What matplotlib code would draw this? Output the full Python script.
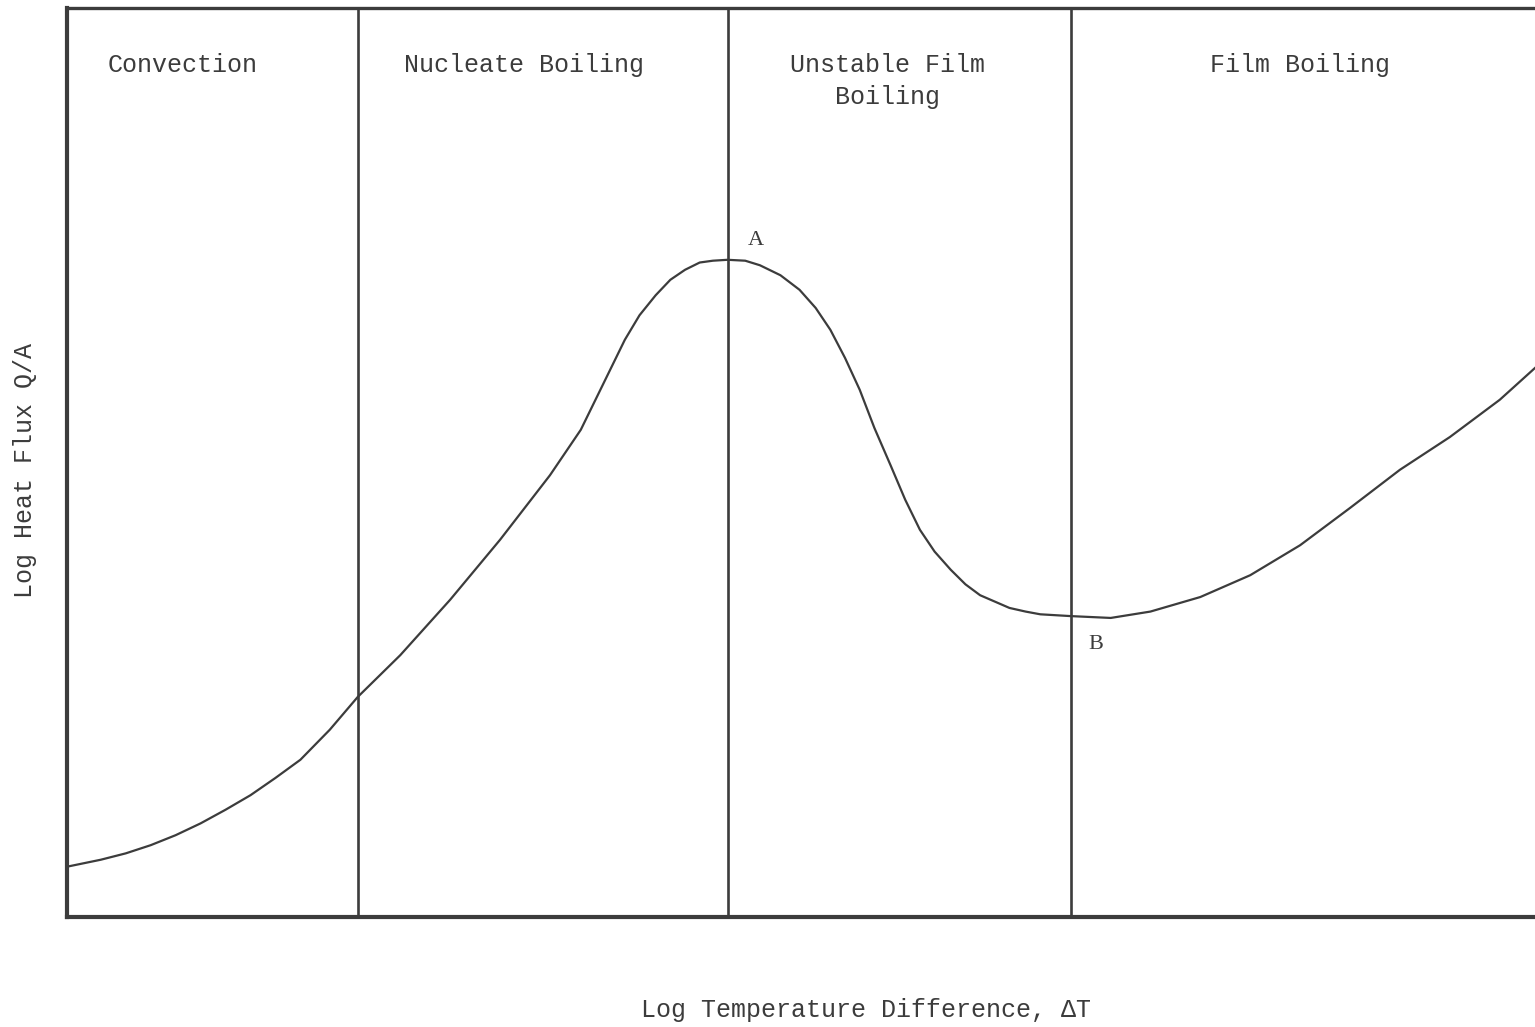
import matplotlib
matplotlib.use("Agg")
import matplotlib.pyplot as plt

# boiling curve (arbitrary log units, 0-100)
log_dT = [0.2, 2.3, 4.0, 5.7, 7.4, 9.1, 10.8, 12.5, 14.2, 15.9, 17.9, 19.8,
          22.7, 26.1, 29.5, 32.9, 35.0, 36.0, 37.0, 38.0, 39.0, 40.1, 41.1,
          42.1, 43.1, 44.0, 45.0, 46.2, 47.2, 48.6, 49.9, 51.0, 52.0, 53.0,
          54.0, 55.0, 56.1, 57.1, 58.1, 59.1, 60.2, 61.2, 62.2, 63.2, 64.2,
          65.3, 66.3, 68.4, 71.1, 73.8, 77.2, 80.6, 84.0, 87.4, 90.8, 94.2,
          97.6, 100.0]
log_q = [5.6, 6.3, 7.0, 7.9, 9.0, 10.3, 11.8, 13.4, 15.3, 17.3, 20.6, 24.2,
         28.8, 34.9, 41.5, 48.6, 53.6, 56.9, 60.2, 63.5, 66.2, 68.4, 70.1,
         71.2, 72.0, 72.2, 72.3, 72.2, 71.7, 70.6, 69.0, 67.0, 64.6, 61.5,
         58.0, 53.8, 49.7, 45.9, 42.6, 40.2, 38.2, 36.6, 35.4, 34.7, 34.0,
         33.6, 33.3, 33.1, 32.9, 33.6, 35.2, 37.6, 40.9, 45.0, 49.2, 52.8,
         56.9, 60.4]

# regime boundaries and names
bounds = [19.8, 45.0, 68.4]
regimes = ["Convection", "Nucleate Boiling", "Unstable Film\nBoiling", "Film Boiling"]
regime_x = [7.9, 31.1, 55.9, 84.0]

ink = "#3c3c3c"
mono = ["Liberation Mono", "DejaVu Sans"]

fig = plt.figure(figsize=(15.35, 10.27), dpi=100)
ax = fig.add_axes([67 / 1535, 110 / 1027, 1468 / 1535, 909 / 1027])

ax.plot(log_dT, log_q, color=ink, lw=1.6, solid_joinstyle="round")
for b in bounds:
    ax.axvline(b, color=ink, lw=1.9)

tr = ax.get_xaxis_transform()
for name, xc in zip(regimes, regime_x):
    ax.text(xc, 0.951, name, transform=tr, ha="center", va="top",
            family=mono, fontsize=18, color=ink, linespacing=1.45)

ax.text(46.4, 73.4, "A", family="Liberation Serif", fontsize=16, color=ink,
        ha="left", va="bottom")
ax.text(69.6, 31.0, "B", family="Liberation Serif", fontsize=16, color=ink,
        ha="left", va="top")

ax.set_xlim(0, 100)
ax.set_ylim(0, 100)
ax.set_xticks([])
ax.set_yticks([])
ax.spines["right"].set_visible(False)
for s in ["left", "bottom"]:
    ax.spines[s].set_linewidth(3.0)
    ax.spines[s].set_color(ink)
ax.spines["top"].set_linewidth(2.4)
ax.spines["top"].set_color(ink)

fig.text(866 / 1535, 1 - 1010 / 1027, "Log Temperature Difference, ΔT",
         family=mono, fontsize=18, color=ink, ha="center", va="center")
fig.text(25 / 1535, 1 - 470 / 1027, "Log Heat Flux Q/A", rotation=90,
         family=mono, fontsize=18, color=ink, ha="center", va="center")

fig.savefig("out.png", dpi=100, facecolor="white")
